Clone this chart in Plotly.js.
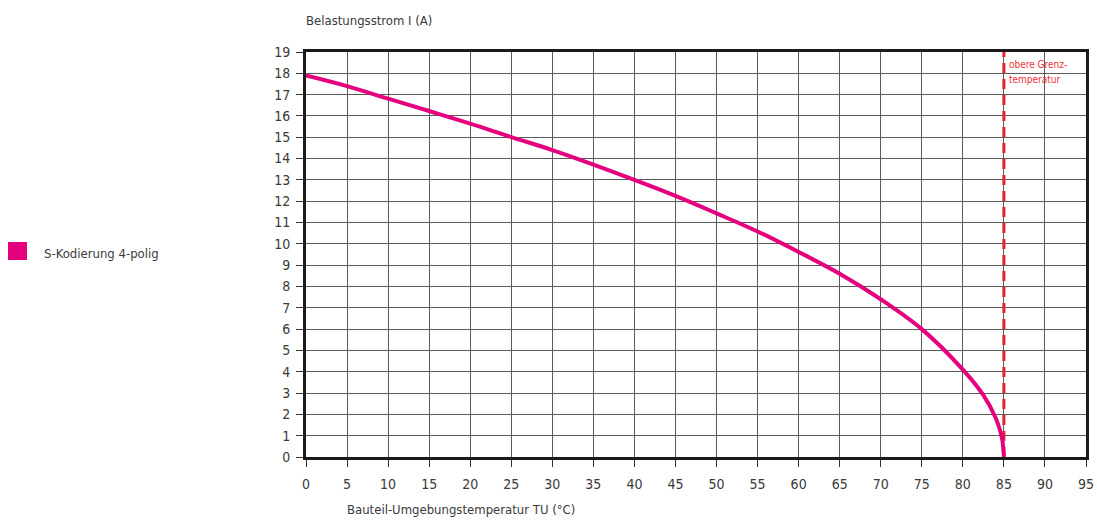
<!DOCTYPE html>
<html>
<head>
<meta charset="utf-8">
<script src="https://cdn.plot.ly/plotly-3.0.1.min.js"></script>
<style>html,body{margin:0;padding:0;background:#fff;}#chart{width:1097px;height:523px;}</style>
</head>
<body>
<div id="chart"></div>
<script>
// Data
var temperature = [0, 5, 10, 15, 20, 25, 30, 35, 40, 45, 50, 55, 60, 65, 70, 75, 80, 82.5, 84, 84.5, 84.8, 85];
var current = [17.9, 17.4, 16.81, 16.23, 15.64, 15.01, 14.4, 13.72, 13.0, 12.25, 11.43, 10.58, 9.62, 8.6, 7.4, 6.0, 4.1, 2.9, 1.83, 1.29, 0.82, 0];
var limitX = [85, 85];
var limitY = [0, 19];
var xTicks = [0,5,10,15,20,25,30,35,40,45,50,55,60,65,70,75,80,85,90,95];
var yTicks = [0,1,2,3,4,5,6,7,8,9,10,11,12,13,14,15,16,17,18,19];
var seriesName = 'S-Kodierung 4-polig';
var limitLabel = ['obere Grenz-', 'temperatur'];

var FONT = '"DejaVu Sans Condensed", "Liberation Sans Narrow", sans-serif';
var L = 306, R = 11, T = 52, B = 66;
var W = 1097 - L - R, H = 523 - T - B;
function px(x){ return (x - L) / W; }
function py(y){ return (523 - B - y) / H; }

var traces = [
  {x: limitX, y: limitY, mode: 'lines', showlegend: false, hoverinfo: 'skip',
   line: {color: '#e8202a', width: 3, dash: '10px,6px'}},
  {x: temperature, y: current, mode: 'lines', name: seriesName, showlegend: false,
   line: {color: '#e5007e', width: 4, shape: 'spline', smoothing: 1}}
];

var axisCommon = {
  showline: true, linecolor: '#1a1a1a', linewidth: 3, mirror: true,
  showgrid: true, gridcolor: '#5a5a5a', gridwidth: 1, zeroline: false,
  ticks: 'outside', ticklen: 7, tickcolor: '#333', tickwidth: 1,
  tickfont: {family: FONT, size: 14, color: '#3a3a3a'}
};

var layout = {
  width: 1097, height: 523,
  margin: {l: L, r: R, t: T, b: B},
  paper_bgcolor: '#fff', plot_bgcolor: '#fff',
  showlegend: false,
  xaxis: Object.assign({}, axisCommon, {range: [0, 95], tickvals: xTicks, ticktext: xTicks.map(String), ticklabelstandoff: 5}),
  yaxis: Object.assign({}, axisCommon, {range: [0, 19], tickvals: yTicks, ticktext: yTicks.map(String), ticklabelstandoff: 3}),
  shapes: [
    {type: 'rect', xref: 'paper', yref: 'paper', x0: px(8), x1: px(27), y0: py(260), y1: py(242),
     fillcolor: '#e5007e', line: {width: 0}}
  ],
  annotations: [
    {xref: 'paper', yref: 'paper', x: px(42), y: py(253), xanchor: 'left', yanchor: 'middle', showarrow: false,
     text: seriesName, font: {family: FONT, size: 13, color: '#3a3a3a'}},
    {xref: 'paper', yref: 'paper', x: px(304), y: py(21), xanchor: 'left', yanchor: 'middle', showarrow: false,
     text: 'Belastungsstrom I (A)', font: {family: FONT, size: 13, color: '#3a3a3a'}},
    {xref: 'paper', yref: 'paper', x: px(345), y: py(509), xanchor: 'left', yanchor: 'middle', showarrow: false,
     text: 'Bauteil-Umgebungstemperatur TU (°C)', font: {family: FONT, size: 13, color: '#3a3a3a'}},
    {xref: 'x', yref: 'paper', x: 85, y: py(64), xanchor: 'left', yanchor: 'middle', xshift: 3, showarrow: false, align: 'left',
     text: limitLabel[0], font: {family: FONT, size: 10, color: '#f0303a'}},
    {xref: 'x', yref: 'paper', x: 85, y: py(79), xanchor: 'left', yanchor: 'middle', xshift: 3, showarrow: false, align: 'left',
     text: limitLabel[1], font: {family: FONT, size: 10, color: '#f0303a'}}
  ]
};

Plotly.newPlot('chart', traces, layout, {displayModeBar: false, staticPlot: true});
</script>
</body>
</html>
